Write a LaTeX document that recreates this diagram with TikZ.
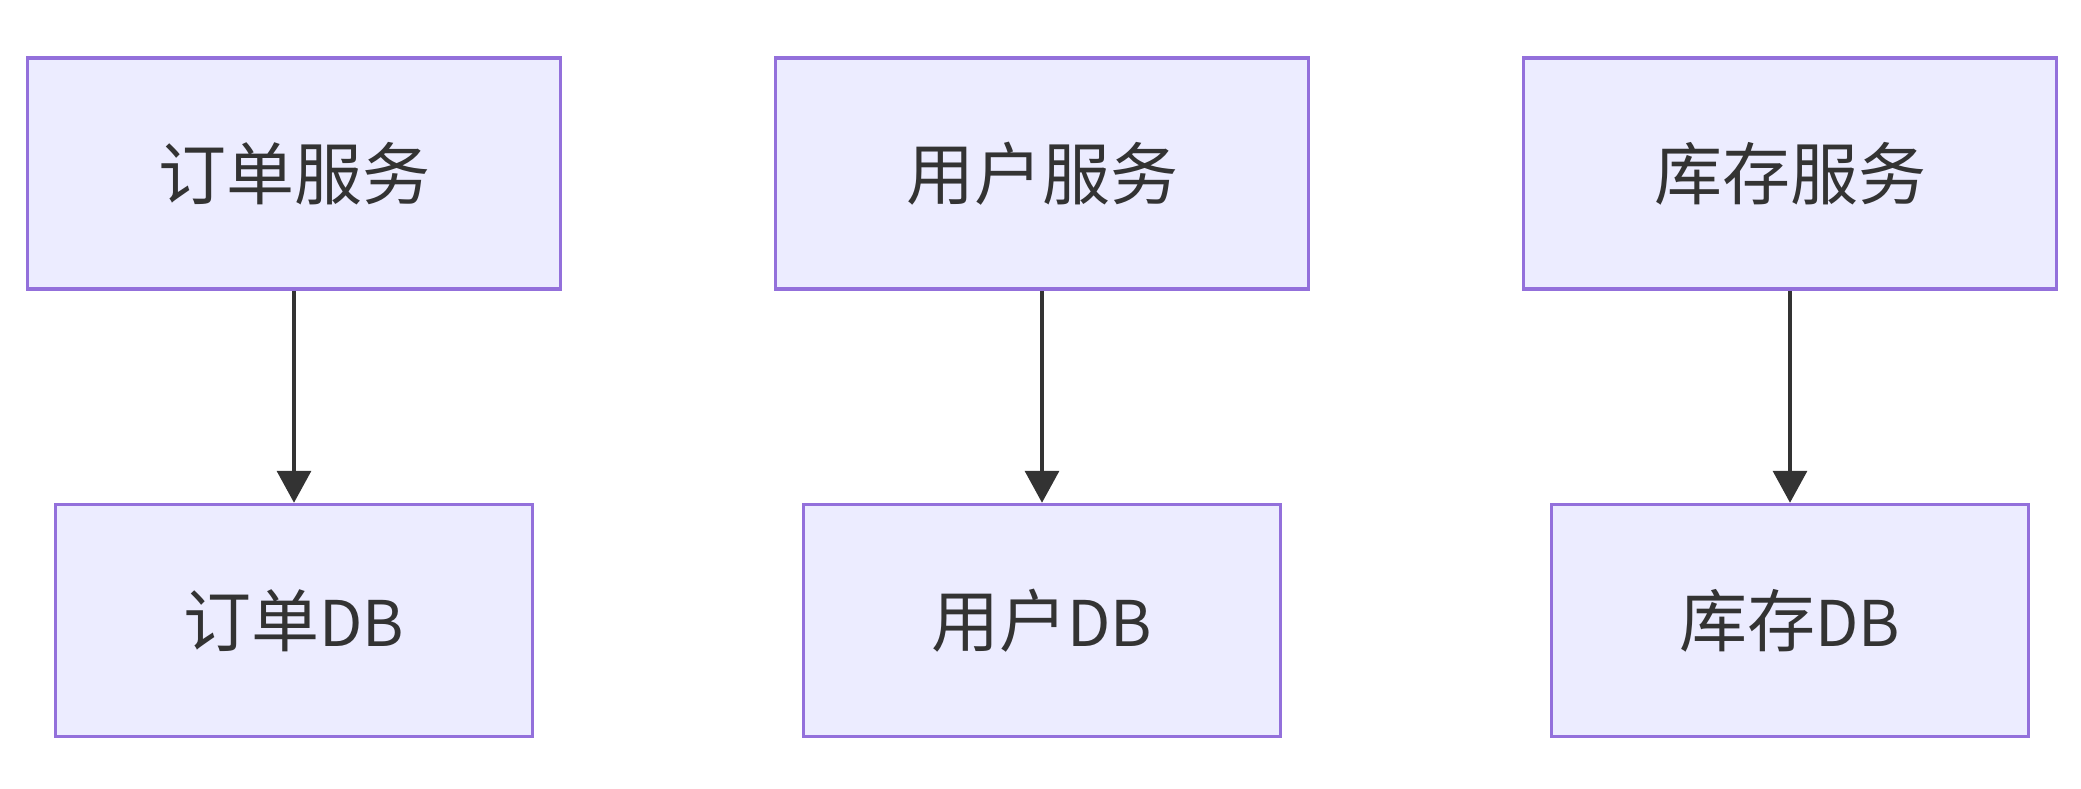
\documentclass[tikz,border=0pt]{standalone}
\usepackage{fontspec}
\setmainfont{Noto Sans CJK SC}
\usetikzlibrary{arrows.meta}
\definecolor{boxfill}{HTML}{ECECFF}
\definecolor{boxline}{HTML}{9370DB}
\definecolor{ink}{HTML}{333333}
\newcommand{\latinpart}[1]{{\fontsize{63}{80}\selectfont #1}}
\tikzset{
  svcbox/.style={draw=boxline, fill=boxfill, line width=3.5pt, minimum width=533pt, minimum height=231pt, inner sep=0pt, text=ink, font=\fontsize{68}{80}\selectfont},
  dbbox/.style={svcbox, minimum width=477pt, minimum height=232pt},
  link/.style={draw=ink, line width=3.6pt, -{Triangle[length=32pt,width=34pt]}}
}
\begin{document}
\begin{tikzpicture}[x=1pt,y=-1pt]
\useasboundingbox (0,0) rectangle (2081,789);
\node[svcbox] (s1) at (294,173.5) {订单服务};
\node[svcbox] (s2) at (1042,173.5) {用户服务};
\node[svcbox] (s3) at (1790,173.5) {库存服务};
\node[dbbox] (d1) at (294,620.5) {订单\latinpart{DB}};
\node[dbbox] (d2) at (1042,620.5) {用户\latinpart{DB}};
\node[dbbox] (d3) at (1790,620.5) {库存\latinpart{DB}};
\draw[link] (s1) -- (d1);
\draw[link] (s2) -- (d2);
\draw[link] (s3) -- (d3);
\end{tikzpicture}
\end{document}
